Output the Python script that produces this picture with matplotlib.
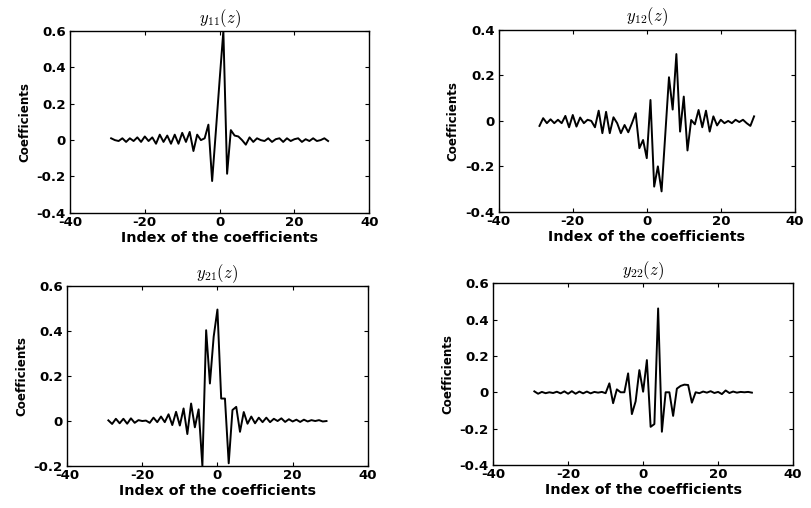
"""Four panels of filter coefficients y11, y12, y21, y22 versus index."""

import matplotlib

matplotlib.use("Agg")

import matplotlib.pyplot as plt
from matplotlib.ticker import FuncFormatter

plt.rcParams["font.family"] = "DejaVu Sans"
plt.rcParams["font.weight"] = "bold"
plt.rcParams["axes.labelweight"] = "bold"
plt.rcParams["mathtext.fontset"] = "cm"
plt.rcParams["axes.unicode_minus"] = False

# coefficient index (shared by all panels)
idx = list(range(-29, 30))

y11 = [0.01, 0.0, -0.005, 0.01, -0.01, 0.01, -0.005, 0.015, -0.01, 0.02,
       -0.005, 0.015, -0.02, 0.03, -0.01, 0.025, -0.02, 0.03, -0.02, 0.04,
       -0.01, 0.045, -0.06, 0.03, 0.0, 0.01, 0.085, -0.225, 0.05, 0.33,
       0.6, -0.185, 0.055, 0.025, 0.02, 0.0, -0.025, 0.015, -0.01, 0.01,
       0.0, -0.005, 0.01, -0.01, 0.005, 0.01, -0.01, 0.01, -0.005, 0.005,
       0.01, -0.01, 0.005, -0.005, 0.01, -0.005, 0.0, 0.01, -0.005]

y12 = [-0.022, 0.012, -0.01, 0.007, -0.01, 0.005, -0.01, 0.022, -0.028, 0.026,
       -0.025, 0.015, -0.01, 0.005, 0.0, -0.028, 0.045, -0.054, 0.04, -0.054,
       0.016, -0.01, -0.054, -0.018, -0.05, -0.01, 0.034, -0.12, -0.084, -0.164,
       0.092, -0.289, -0.2, -0.31, -0.06, 0.192, 0.05, 0.294, -0.047, 0.107,
       -0.13, 0.004, -0.015, 0.048, -0.028, 0.045, -0.047, 0.02, -0.02, 0.005,
       -0.01, 0.0, -0.01, 0.005, -0.005, 0.005, -0.01, -0.022, 0.02]

y21 = [0.003, -0.013, 0.01, -0.01, 0.01, -0.012, 0.012, -0.008, 0.004, 0.0,
       0.002, -0.008, 0.015, -0.005, 0.02, -0.005, 0.03, -0.018, 0.041, -0.02,
       0.056, -0.058, 0.078, -0.028, 0.052, -0.2, 0.404, 0.167, 0.375, 0.496,
       0.10, 0.10, -0.188, 0.049, 0.063, -0.048, 0.04, -0.012, 0.02, -0.01,
       0.015, -0.005, 0.015, -0.005, 0.01, 0.0, 0.012, -0.004, 0.008, -0.002,
       0.006, -0.004, 0.006, -0.002, 0.004, 0.0, 0.004, -0.002, 0.0]

y22 = [0.005, -0.008, 0.002, -0.005, 0.0, -0.004, 0.003, -0.006, 0.005, -0.008,
       0.006, -0.008, 0.004, -0.006, 0.004, -0.006, 0.002, -0.002, 0.002, -0.005,
       0.049, -0.06, 0.016, 0.0, 0.0, 0.104, -0.12, -0.05, 0.122, 0.003,
       0.177, -0.19, -0.175, 0.461, -0.217, 0.0, 0.0, -0.13, 0.02, 0.035,
       0.042, 0.04, -0.057, 0.0, -0.005, 0.004, -0.002, 0.006, -0.004, 0.002,
       -0.01, 0.01, -0.004, 0.004, -0.002, 0.002, 0.0, 0.002, -0.002]

titles = [r"$y_{11}(z)$", r"$y_{12}(z)$", r"$y_{21}(z)$", r"$y_{22}(z)$"]
series = [y11, y12, y21, y22]
ylims = [(-0.4, 0.6), (-0.4, 0.4), (-0.2, 0.6), (-0.4, 0.6)]
xticks = [-40, -20, 0, 20, 40]

# axes rectangles in figure fractions [left, bottom, width, height]
rects = [
    [0.0863, 0.581, 0.369, 0.358],
    [0.615, 0.583, 0.365, 0.358],
    [0.0826, 0.0827, 0.371, 0.354],
    [0.608, 0.0846, 0.370, 0.358],
]


def fmt(v, _pos):
    if abs(v) < 1e-9:
        return "0"
    return f"{v:g}"


fig = plt.figure(figsize=(8.11, 5.08), dpi=100)
for rect, title, y, (lo, hi) in zip(rects, titles, series, ylims):
    ax = fig.add_axes(rect)
    ax.plot(idx, y, color="black", linewidth=1.4)
    ax.set_xlim(-40, 40)
    ax.set_ylim(lo, hi)
    ax.set_xticks(xticks)
    ax.set_yticks([round(lo + 0.2 * k, 1) for k in range(int(round((hi - lo) / 0.2)) + 1)])
    ax.yaxis.set_major_formatter(FuncFormatter(fmt))
    ax.xaxis.set_major_formatter(FuncFormatter(fmt))
    ax.tick_params(direction="in", length=3, width=0.8, top=True, right=True,
                   labelsize=9.6)
    ax.tick_params(axis="x", pad=2.5)
    ax.tick_params(axis="y", pad=3)
    for s in ax.spines.values():
        s.set_linewidth(1.0)
    ax.set_title(title, fontsize=12, pad=6)
    ax.set_xlabel("Index of the coefficients", fontsize=10.3, labelpad=1)
    ax.set_ylabel("Coefficients", fontsize=8.6, labelpad=4)

fig.savefig("out.png", dpi=100)
